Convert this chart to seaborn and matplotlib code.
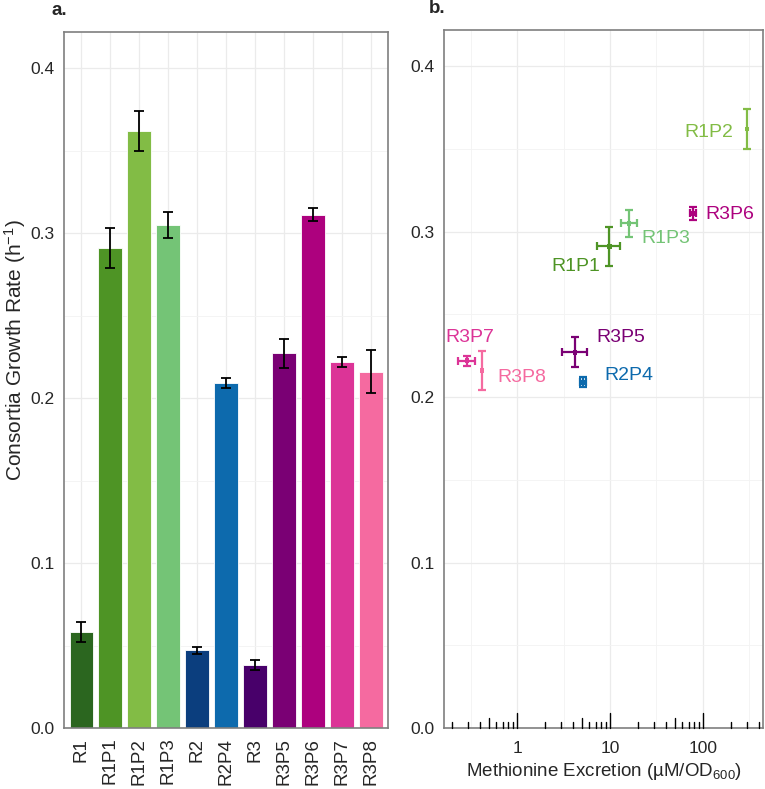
import matplotlib
matplotlib.use('Agg')
import matplotlib.pyplot as plt
import numpy as np
import pandas as pd
import seaborn as sns

# Panel a: growth rates of each consortium
strains = ['R1', 'R1P1', 'R1P2', 'R1P3', 'R2', 'R2P4', 'R3', 'R3P5', 'R3P6', 'R3P7', 'R3P8']
growth = [0.058, 0.291, 0.362, 0.305, 0.047, 0.209, 0.038, 0.227, 0.311, 0.222, 0.216]
growth_err = [0.006, 0.012, 0.012, 0.008, 0.002, 0.003, 0.003, 0.009, 0.004, 0.003, 0.013]
colours = ['#2b661f', '#4e9425', '#82bc45', '#74c476', '#0b3e7e', '#0d6aad',
           '#48006a', '#7a0074', '#ad017e', '#dc3497', '#f56aa0']

# Panel b: methionine excretion vs growth
pairs = ['R1P1', 'R1P2', 'R1P3', 'R2P4', 'R3P5', 'R3P6', 'R3P7', 'R3P8']
met = [9.8, 297, 16.0, 5.1, 4.2, 78, 0.29, 0.42]
met_lo = [2.5, 0, 2.9, 0.4, 1.15, 6, 0.06, 0]
met_hi = [3.1, 0, 3.5, 0.4, 1.5, 6, 0.06, 0]
pair_rate = [0.291, 0.362, 0.305, 0.209, 0.227, 0.311, 0.222, 0.216]
pair_err = [0.012, 0.012, 0.008, 0.003, 0.009, 0.004, 0.003, 0.012]
pair_colours = ['#4e9425', '#82bc45', '#74c476', '#0d6aad', '#7a0074', '#ad017e', '#dc3497', '#f56aa0']
# label anchor (x, y, ha)
label_x = [7.8, 210, 21.5, 8.6, 7.1, 105, 0.31, 0.62]
label_y = [0.279, 0.360, 0.296, 0.213, 0.236, 0.310, 0.236, 0.212]
label_ha = ['right', 'right', 'left', 'left', 'left', 'left', 'center', 'left']

sns.set_style('whitegrid')
plt.rcParams['font.family'] = ['Liberation Sans', 'DejaVu Sans']
plt.rcParams['mathtext.fontset'] = 'custom'
plt.rcParams['mathtext.rm'] = 'Liberation Sans'
plt.rcParams['mathtext.it'] = 'Liberation Sans'

fig = plt.figure(figsize=(7.65, 7.89), dpi=100)
ax1 = fig.add_axes([0.0837, 0.0773, 0.4235, 0.8821])
ax2 = fig.add_axes([0.5804, 0.0773, 0.4170, 0.8847])

grid_c = '#ebebeb'
border_c = '#7f7f7f'

# ---- panel a
df = pd.DataFrame({'strain': strains, 'growth': growth})
sns.barplot(data=df, x='strain', y='growth', hue='strain', palette=colours, saturation=1,
            legend=False, ax=ax1, width=0.82, edgecolor='white', linewidth=0.6, zorder=2)
ax1.errorbar(np.arange(len(strains)), growth, yerr=growth_err, fmt='none',
             ecolor='black', elinewidth=1.3, capsize=3.5, capthick=1.3, zorder=3)
ax1.set_xlim(-0.6, 10.6)
ax1.set_ylim(0, 0.4218)
ax1.set_yticks([0.0, 0.1, 0.2, 0.3, 0.4])
ax1.set_yticks([0.05, 0.15, 0.25, 0.35], minor=True)
ax1.set_yticklabels(['0.0', '0.1', '0.2', '0.3', '0.4'])
ax1.set_xlabel('')
ax1.set_ylabel('Consortia Growth Rate (h$^{-1}$)', fontsize=15)
ax1.yaxis.set_label_coords(-0.112, 0.543)
ax1.tick_params(axis='x', labelrotation=90, labelsize=13.5, length=5, width=1, color='#333333', pad=2)
ax1.tick_params(axis='y', labelsize=12.5, length=5, width=1, color='#333333', pad=2)
ax1.tick_params(which='minor', length=0)
ax1.grid(True, which='major', color=grid_c, linewidth=0.9)
ax1.grid(True, which='minor', axis='y', color='#f3f3f3', linewidth=0.6)
ax1.set_axisbelow(True)
for s in ax1.spines.values():
    s.set_color(border_c)
    s.set_linewidth(1.2)
fig.text(0.067, 0.987, 'a.', fontsize=13.5, fontweight='bold', va='center')

# ---- panel b
df2 = pd.DataFrame({'pair': pairs, 'met': met, 'rate': pair_rate})
for i in range(len(pairs)):
    ax2.errorbar(met[i], pair_rate[i], yerr=pair_err[i],
                 xerr=[[met_lo[i]], [met_hi[i]]] if met_hi[i] > 0 else None,
                 fmt='none', ecolor=pair_colours[i], elinewidth=1.6, capsize=3, capthick=1.6, zorder=3)
sns.scatterplot(data=df2, x='met', y='rate', hue='pair', palette=pair_colours, legend=False,
                marker='s', s=12, linewidth=0, ax=ax2, zorder=4)
for i in range(len(pairs)):
    ax2.text(label_x[i], label_y[i], pairs[i], color=pair_colours[i], fontsize=14,
             ha=label_ha[i], va='center')
ax2.set_xscale('log')
ax2.set_xlim(0.164, 442)
ax2.set_ylim(0, 0.4218)
ax2.set_xticks([1, 10, 100])
ax2.set_xticklabels(['1', '10', '100'])
ax2.set_xticks([10 ** -0.5, 10 ** 0.5, 10 ** 1.5, 10 ** 2.5], minor=True)
ax2.set_yticks([0.0, 0.1, 0.2, 0.3, 0.4])
ax2.set_yticks([0.05, 0.15, 0.25, 0.35], minor=True)
ax2.set_yticklabels(['0.0', '0.1', '0.2', '0.3', '0.4'])
ax2.set_xlabel('Methionine Excretion (µM/OD$_{600}$)', fontsize=13.5, labelpad=4)
ax2.set_ylabel('')
ax2.tick_params(axis='x', labelsize=12.5, length=0, pad=9)
ax2.tick_params(axis='y', labelsize=12.5, length=5, width=1, color='#333333', pad=2)
ax2.tick_params(which='minor', length=0)
ax2.grid(True, which='major', color=grid_c, linewidth=0.9)
ax2.grid(True, which='minor', color='#f3f3f3', linewidth=0.6)
ax2.set_axisbelow(True)
for s in ax2.spines.values():
    s.set_color(border_c)
    s.set_linewidth(1.2)

# log ticks along the bottom, drawn inside the panel
trans = ax2.get_xaxis_transform()
for dec in [0.1, 1, 10, 100]:
    for m in range(1, 10):
        v = dec * m
        if v < 0.164 or v > 442:
            continue
        if m == 1:
            h = 0.021
        elif m == 5:
            h = 0.015
        else:
            h = 0.009
        ax2.plot([v, v], [0, h], transform=trans, color='black', linewidth=1, zorder=5, clip_on=False)
fig.text(0.561, 0.989, 'b.', fontsize=13.5, fontweight='bold', va='center')

fig.savefig('out.png', dpi=100)
